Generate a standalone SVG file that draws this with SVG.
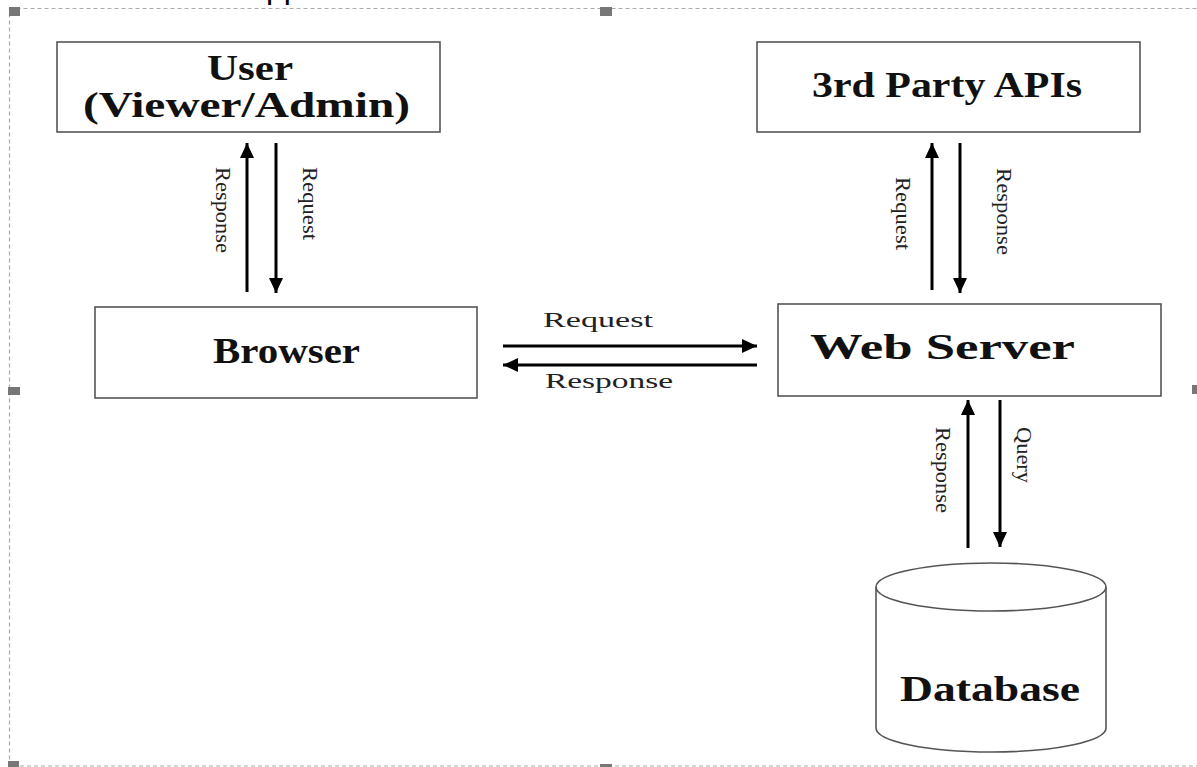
<svg xmlns="http://www.w3.org/2000/svg" width="1197" height="767" viewBox="0 0 1197 767">
<defs>
<style>
.box{fill:#fff;stroke:#555;stroke-width:1.6}
.title{font-family:"Liberation Serif",serif;font-weight:bold;font-size:36px;fill:#111;text-anchor:start}
.lbl{font-family:"Liberation Serif",serif;font-size:22px;fill:#222}
.arr{stroke:#000;stroke-width:3;fill:none;marker-end:url(#ah)}
.handle{fill:#777}
</style>
<marker id="ah" markerUnits="userSpaceOnUse" markerWidth="16" markerHeight="16" viewBox="0 0 16 16" refX="15" refY="8" orient="auto">
<path d="M0,1 L15,8 L0,15 Z" fill="#000"/>
</marker>
</defs>
<rect width="1197" height="767" fill="#fff"/>
<g id="frame">
<rect x="9.5" y="8.5" width="1200" height="757.5" fill="none" stroke="#aaa" stroke-width="1.2" stroke-dasharray="4 3"/>
<rect class="handle" x="9" y="7" width="11" height="9"/>
<rect class="handle" x="600" y="7" width="12" height="9"/>
<rect class="handle" x="8" y="387" width="12" height="8"/>
<rect class="handle" x="1192" y="385" width="6" height="9"/>
<rect class="handle" x="600" y="764" width="12" height="4"/>
<rect class="handle" x="8" y="761" width="11" height="7"/>
<text x="266" y="-2" font-family="Liberation Sans, sans-serif" font-size="32" fill="#000">pp</text>
</g>
<g id="user">
<rect class="box" x="57" y="42" width="383" height="90"/>
<text class="title" x="207" y="80" font-size="28" textLength="86" lengthAdjust="spacingAndGlyphs">User</text>
<text class="title" x="83" y="117" font-size="28" textLength="327" lengthAdjust="spacingAndGlyphs">(Viewer/Admin)</text>
</g>
<g id="apis">
<rect class="box" x="757" y="42" width="383" height="90"/>
<text class="title" x="812" y="97" textLength="270" lengthAdjust="spacingAndGlyphs">3rd Party APIs</text>
</g>
<g id="browser">
<rect class="box" x="95" y="307" width="382" height="91"/>
<text class="title" x="213" y="363" textLength="147" lengthAdjust="spacingAndGlyphs">Browser</text>
</g>
<g id="webserver">
<rect class="box" x="778" y="304" width="383" height="92"/>
<text class="title" x="810" y="359" textLength="265" lengthAdjust="spacingAndGlyphs">Web Server</text>
</g>
<g id="database">
<path class="box" d="M876,587 L876,728 A115,24 0 0 0 1106,728 L1106,587"/>
<ellipse class="box" cx="991" cy="587" rx="115" ry="24"/>
<text class="title" x="900" y="701" textLength="180" lengthAdjust="spacingAndGlyphs">Database</text>
</g>
<g id="connectors">
<line class="arr" x1="247" y1="292" x2="247" y2="143"/>
<line class="arr" x1="276" y1="143" x2="276" y2="293"/>
<line class="arr" x1="932" y1="290" x2="932" y2="143"/>
<line class="arr" x1="960" y1="143" x2="960" y2="293"/>
<line class="arr" x1="503" y1="346" x2="757" y2="346"/>
<line class="arr" x1="757" y1="365" x2="503" y2="365"/>
<line class="arr" x1="968" y1="548" x2="968" y2="400"/>
<line class="arr" x1="1000" y1="400" x2="1000" y2="547"/>
<text class="lbl" transform="translate(216,167) rotate(90)" textLength="86" lengthAdjust="spacingAndGlyphs">Response</text>
<text class="lbl" transform="translate(303,167) rotate(90)" textLength="73" lengthAdjust="spacingAndGlyphs">Request</text>
<text class="lbl" transform="translate(896,177) rotate(90)" textLength="73" lengthAdjust="spacingAndGlyphs">Request</text>
<text class="lbl" transform="translate(997,168) rotate(90)" textLength="87" lengthAdjust="spacingAndGlyphs">Response</text>
<text class="lbl" transform="translate(936,427) rotate(90)" textLength="86" lengthAdjust="spacingAndGlyphs">Response</text>
<text class="lbl" transform="translate(1017,427) rotate(90)" textLength="56" lengthAdjust="spacingAndGlyphs">Query</text>
<text class="lbl" x="543" y="327" font-size="21" textLength="110" lengthAdjust="spacingAndGlyphs">Request</text>
<text class="lbl" x="545" y="388" font-size="21" textLength="128" lengthAdjust="spacingAndGlyphs">Response</text>
</g>
</svg>
